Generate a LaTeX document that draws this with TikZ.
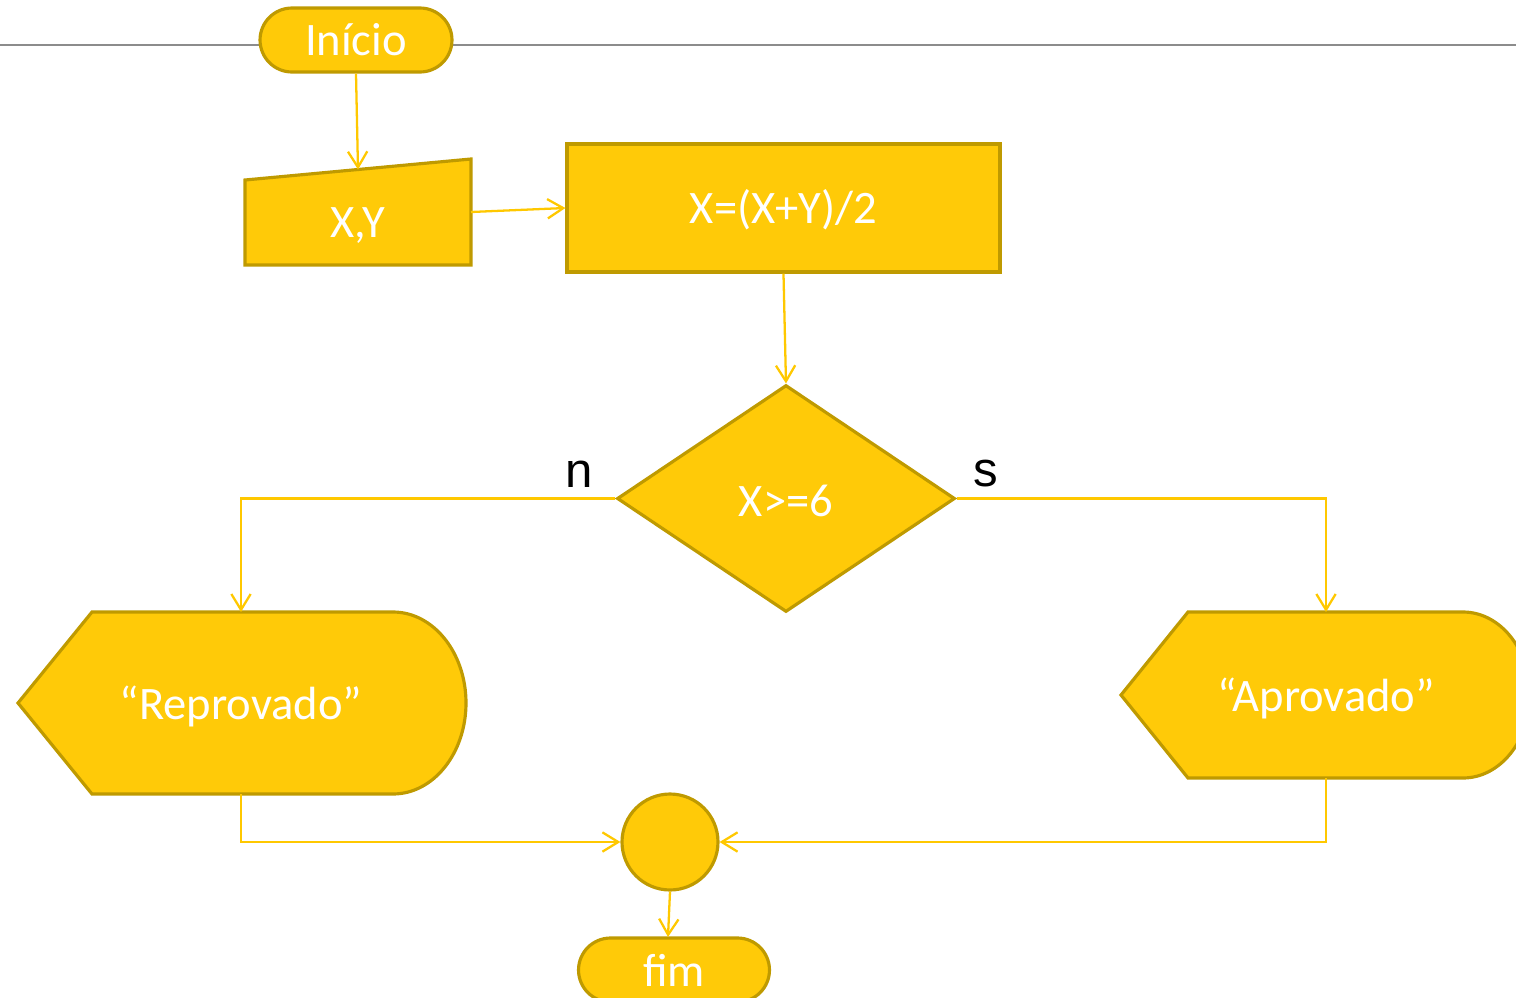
\documentclass[tikz,border=0pt]{standalone}
\usepackage{fontspec}
\setmainfont{Carlito}
\newfontfamily\arialf{Liberation Sans}
\usetikzlibrary{arrows.meta,shapes.misc,shapes.geometric}
\definecolor{fillY}{HTML}{FFCA08}
\definecolor{edgeY}{HTML}{BF9A00}
\definecolor{lineY}{HTML}{FFC800}
\definecolor{rule}{HTML}{8C8C8C}
\begin{document}
\begin{tikzpicture}[x=0.02cm,y=-0.02cm,
 shp/.style={fill=fillY,draw=edgeY,line width=1.8pt},
 wtxt/.style={text=white,font=\fontsize{26.5}{30}\selectfont},
 lbl/.style={wtxt,inner sep=0pt},
 conn/.style={draw=lineY,line width=1.3pt},
 arr/.style={conn,-{Straight Barb[length=9pt,width=11pt]}},
 yn/.style={font=\arialf\fontsize{28}{32}\selectfont,inner sep=0pt}]
\useasboundingbox (0,0) rectangle (1516,998);
\clip (0,0) rectangle (1516,998);
% top rule
\draw[rule,line width=0.8pt] (0,45) -- (1516,45);
% start
\node[shp,wtxt,rounded rectangle,minimum width=3.84cm,minimum height=1.28cm,inner sep=0pt] (ini) at (356,40) {Início};
% manual input
\draw[shp] (245,180) -- (471,159) -- (471,265) -- (245,265) -- cycle;
\node[lbl] (xy) at (358,226) {X,Y};
\coordinate (xyT) at (358,169.5);
\coordinate (xyR) at (471,212);
% process
\node[shp,rectangle,minimum width=8.66cm,minimum height=2.56cm,inner sep=0pt] (calc) at (783.5,208) {};
\node[lbl] (calctxt) at (783.5,210) {X=(X+Y)/2};
% decision
\node[shp,diamond,minimum width=6.76cm,minimum height=4.54cm,inner sep=0pt] (dec) at (786,498.5) {};
\node[lbl] (dectxt) at (786,501) {X>=6};
\node[yn] (nlab) at (579,474) {n};
\node[yn] (slab) at (986,474) {s};
% display Reprovado
\draw[shp] (18,703) -- (92,612) -- (393,612)
  .. controls (433.3,612) and (466,652.7) .. (466,703)
  .. controls (466,753.3) and (433.3,794) .. (393,794)
  -- (92,794) -- cycle;
\node[lbl] (rep) at (241,706) {“Reprovado”};
\coordinate (repT) at (241,612);
\coordinate (repB) at (241,794);
% display Aprovado
\draw[shp] (1121,695) -- (1188,612) -- (1463,612)
  .. controls (1500,612) and (1530,649.2) .. (1530,695)
  .. controls (1530,740.8) and (1500,778) .. (1463,778)
  -- (1188,778) -- cycle;
\node[lbl] (apr) at (1326,698) {“Aprovado”};
\coordinate (aprT) at (1326,612);
\coordinate (aprB) at (1326,778);
% connector
\node[shp,circle,minimum size=1.92cm,inner sep=0pt] (join) at (670,842) {};
% end
\node[shp,wtxt,rounded rectangle,minimum width=3.82cm,minimum height=1.28cm,inner sep=0pt] (fim) at (674,970) {fim};
\coordinate (fimT) at (668,937);
% connectors
\draw[arr] (ini.south) -- (xyT);
\draw[arr] (xyR) -- (calc.west);
\draw[arr] (calc.south) -- (dec.north);
\draw[arr] (dec.west) -| (repT);
\draw[arr] (dec.east) -| (aprT);
\draw[arr] (repB) |- (join.west);
\draw[arr] (aprB) |- (join.east);
\draw[arr] (join.south) -- (fimT);
\end{tikzpicture}
\end{document}
